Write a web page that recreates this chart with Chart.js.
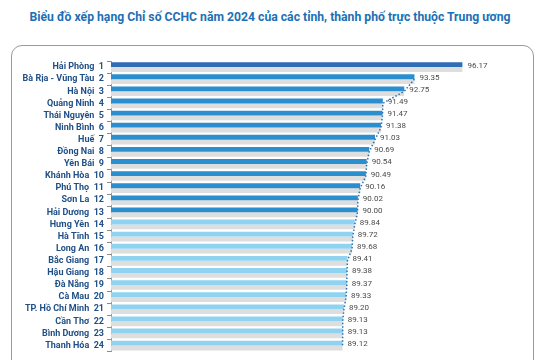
<!DOCTYPE html>
<html lang="vi">
<head>
<meta charset="UTF-8">
<title>Chỉ số CCHC 2024</title>
<script src="https://cdn.jsdelivr.net/npm/chart.js"></script>
<style>
  html, body { margin: 0; padding: 0; background: #fff; }
  #wrap { position: relative; width: 540px; height: 360px; overflow: hidden; }
  #title {
    position: absolute; left: 0; top: 10px; width: 540px; text-align: center;
    font: bold 12.2px Roboto, sans-serif; color: #1d6fb5; white-space: nowrap;
  }
  #box {
    position: absolute; left: 11px; top: 45px; width: 521px; height: 340px;
    border: 1.5px solid #9a9a9a; border-radius: 11px;
  }
  #chart { position: absolute; left: 0; top: 0; }
</style>
</head>
<body>
<div id="wrap">
  <div id="title">Biểu đồ xếp hạng Chỉ số CCHC năm 2024 của các tỉnh, thành phố trực thuộc Trung ương</div>
  <div id="box"></div>
  <canvas id="chart" width="540" height="360"></canvas>
</div>
<script>
const provinces = ['Hải Phòng', 'Bà Rịa - Vũng Tàu', 'Hà Nội', 'Quảng Ninh', 'Thái Nguyên', 'Ninh Bình',
  'Huế', 'Đồng Nai', 'Yên Bái', 'Khánh Hòa', 'Phú Thọ', 'Sơn La', 'Hải Dương', 'Hưng Yên', 'Hà Tĩnh',
  'Long An', 'Bắc Giang', 'Hậu Giang', 'Đà Nẵng', 'Cà Mau', 'TP. Hồ Chí Minh', 'Cần Thơ', 'Bình Dương', 'Thanh Hóa'];
const ranks = [1, 2, 3, 4, 5, 6, 7, 8, 9, 10, 11, 12, 13, 14, 15, 16, 17, 18, 19, 20, 21, 22, 23, 24];
const scores = [96.17, 93.35, 92.75, 91.49, 91.47, 91.38, 91.03, 90.69, 90.54, 90.49, 90.16, 90.02,
  90.00, 89.84, 89.72, 89.68, 89.41, 89.38, 89.37, 89.33, 89.20, 89.13, 89.13, 89.12];

const labels = provinces.map((p, i) => p + '  ' + ranks[i]);

// top score dark blue, 2-13 medium blue, rest light blue
const barColors = ranks.map(r => r === 1 ? '#2f6db4' : (r <= 13 ? '#2b8fcf' : '#90d3f1'));

// dotted guide line along bar ends, leaving out the first row
const trend = scores.map((v, i) => i === 0 ? null : v);

const valueLabels = {
  id: 'valueLabels',
  afterDatasetsDraw(chart) {
    const ctx = chart.ctx;
    const meta = chart.getDatasetMeta(0);
    ctx.save();
    ctx.font = '8px Roboto, sans-serif';
    ctx.fillStyle = '#4a4a4a';
    ctx.textBaseline = 'middle';
    meta.data.forEach((bar, i) => {
      ctx.fillText(scores[i].toFixed(2), bar.x + 5, bar.y + 1);
    });
    ctx.restore();
  }
};

new Chart(document.getElementById('chart'), {
  data: {
    labels: labels,
    datasets: [
      {
        type: 'bar',
        data: scores,
        backgroundColor: barColors,
        categoryPercentage: 0.8,
        barPercentage: 1,
        order: 2
      },
      {
        type: 'bar',
        data: scores,
        backgroundColor: '#dedede',
        categoryPercentage: 0.8,
        barPercentage: 1,
        order: 3
      },
      {
        type: 'line',
        data: trend,
        borderColor: '#2e6fb5',
        borderWidth: 1.5,
        borderDash: [1.5, 2],
        pointRadius: 0,
        spanGaps: false,
        order: 1
      }
    ]
  },
  options: {
    indexAxis: 'y',
    responsive: false,
    animation: false,
    layout: { padding: { top: 61, bottom: 0, left: 0, right: 21 } },
    plugins: { legend: { display: false }, tooltip: { enabled: false } },
    scales: {
      x: {
        display: false,
        min: 75.5,
        max: 99.5
      },
      y: {
        afterFit(scale) { scale.width = 111; },
        grid: { display: true, drawOnChartArea: false, tickLength: 4, color: '#8a8a8a' },
        border: { display: true, color: '#9a9a9a', width: 1 },
        ticks: {
          color: '#1f4f86',
          padding: 3,
          autoSkip: false,
          font: { family: 'Roboto', size: 9, weight: 'bold' }
        }
      }
    }
  },
  plugins: [valueLabels]
});
</script>
</body>
</html>
